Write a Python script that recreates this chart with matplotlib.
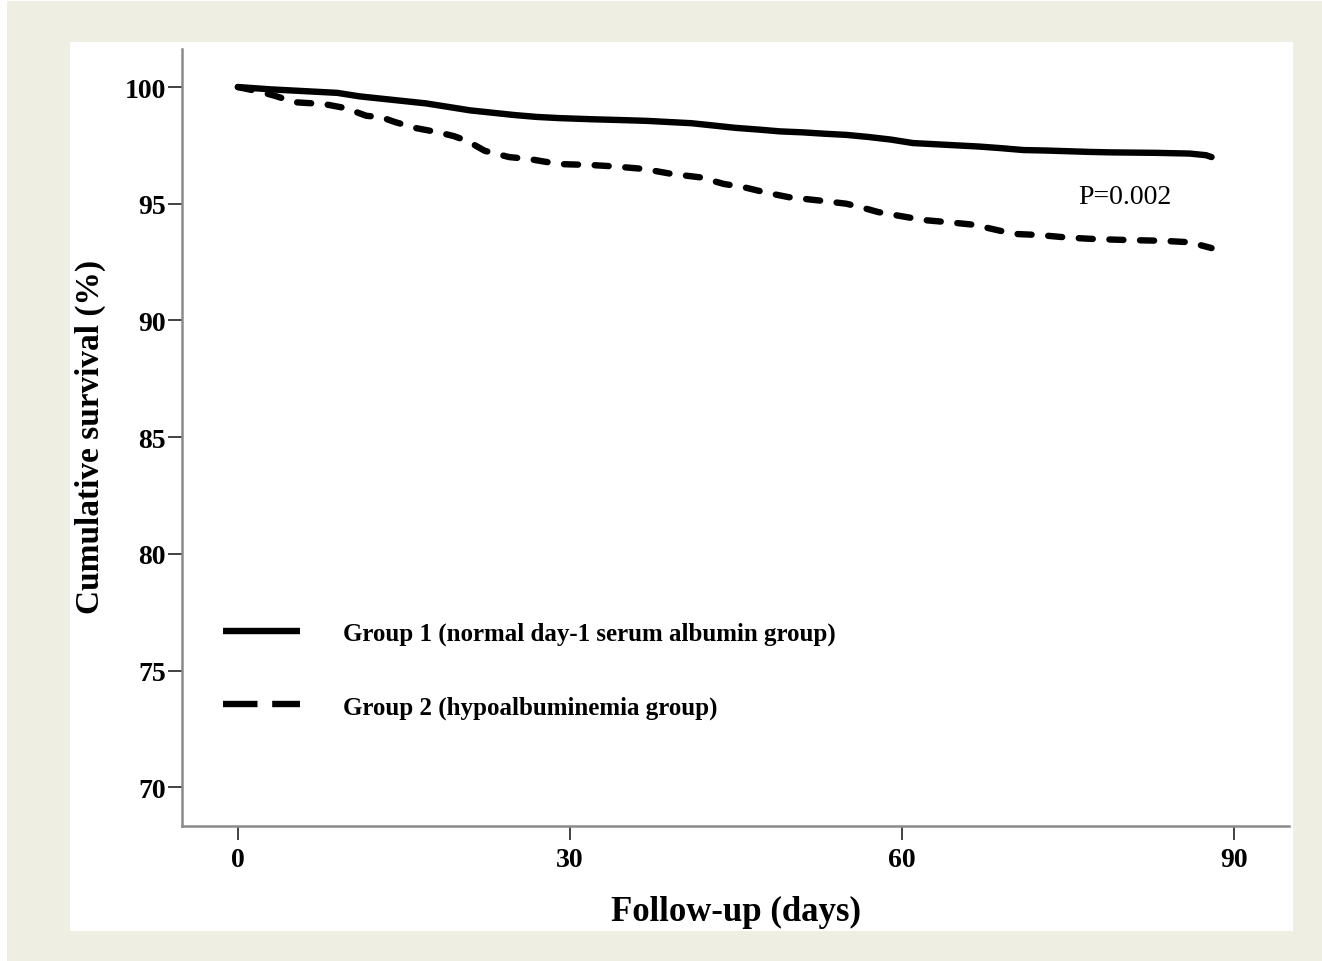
import matplotlib
matplotlib.use("Agg")
import matplotlib.pyplot as plt
from matplotlib.patches import Rectangle
from matplotlib.lines import Line2D

# ---------------- data ----------------
days_g1 = [0, 1.5, 3, 5, 7, 9, 11, 13, 15, 17, 19, 21, 23, 25, 27, 29, 32, 35, 37, 39,
           41, 43, 45, 47, 49, 51, 53, 55, 57, 59, 61, 63, 65, 67, 69, 71, 73, 75, 77,
           79, 83, 86, 87.5, 88]
surv_g1 = [100, 99.95, 99.9, 99.85, 99.8, 99.75, 99.6, 99.5, 99.4, 99.3, 99.15, 99.0,
           98.9, 98.8, 98.72, 98.67, 98.62, 98.58, 98.55, 98.5, 98.45, 98.35, 98.25,
           98.18, 98.1, 98.06, 98.0, 97.95, 97.86, 97.75, 97.6, 97.55, 97.5, 97.45,
           97.38, 97.3, 97.28, 97.25, 97.22, 97.2, 97.18, 97.15, 97.08, 97.0]

days_g2 = [0, 1, 2, 3.3, 4.5, 5.1, 7.8, 9.7, 11.6, 13, 14.2, 16, 18, 19.5, 20.7, 22.3,
           24.5, 26.4, 29, 31.9, 34, 36.7, 39.3, 41.8, 43.9, 45.7, 48, 49.8, 52.7, 55,
           56.3, 57.9, 59.8, 62, 64.4, 66.5, 68.9, 70.5, 72.4, 75, 77.3, 80, 83.7, 86,
           87.2, 88]
surv_g2 = [100, 99.9, 99.8, 99.63, 99.45, 99.35, 99.27, 99.1, 98.77, 98.7, 98.5, 98.25,
           98.07, 97.9, 97.7, 97.27, 97.0, 96.91, 96.7, 96.66, 96.6, 96.49, 96.27, 96.13,
           95.85, 95.71, 95.45, 95.28, 95.13, 95.0, 94.85, 94.64, 94.48, 94.3, 94.2,
           94.1, 93.84, 93.7, 93.66, 93.55, 93.49, 93.45, 93.41, 93.35, 93.2, 93.1]

labels = ["Group 1 (normal day-1 serum albumin group)",
          "Group 2 (hypoalbuminemia group)"]
x_ticks = [0, 30, 60, 90]
y_ticks = [70, 75, 80, 85, 90, 95, 100]
p_text = "P=0.002"
p_pos = (80.2, 95.33)

# ---------------- figure ----------------
W, H = 1322, 962
fig = plt.figure(figsize=(W / 100, H / 100), dpi=100, facecolor="white")
fig.patches.append(Rectangle((7 / W, 0), 1 - 7 / W, 1 - 2 / H, transform=fig.transFigure,
                             facecolor="#efeee3", edgecolor="none", zorder=-10))
fig.patches.append(Rectangle((70 / W, (H - 932) / H), (1293 - 70) / W, (932 - 43) / H,
                             transform=fig.transFigure, facecolor="white",
                             edgecolor="none", zorder=-9))

ax = fig.add_axes([182 / W, (H - 826.7) / H, (1289 - 182) / W, (826.7 - 50) / H])
ax.set_facecolor("none")

serif = "Liberation Serif"
lw = 4.6
ax.plot(days_g1, surv_g1, color="black", lw=lw,
        solid_capstyle="round", solid_joinstyle="round")
ax.plot(days_g2, surv_g2, color="black", lw=lw,
        dashes=(2.2, 2.6), dash_capstyle="round", dash_joinstyle="round")

ax.set_xlim(-5.05, 95.0)
ax.set_ylim(68.35, 101.63)
ax.set_xticks(x_ticks)
ax.set_yticks(y_ticks)

for s in ["top", "right"]:
    ax.spines[s].set_visible(False)
for s in ["left", "bottom"]:
    ax.spines[s].set_color("#8a8a8a")
    ax.spines[s].set_linewidth(1.8)

ax.tick_params(axis="y", direction="out", length=10, width=1.3, color="#333333", pad=1.5)
ax.tick_params(axis="x", direction="out", length=10, width=1.3, color="#333333", pad=5.5)
for t in ax.get_xticklabels() + ax.get_yticklabels():
    t.set_fontfamily(serif)
    t.set_fontweight("bold")
    t.set_fontsize(20)

ax.set_xlabel("Follow-up (days)", fontfamily=serif, fontweight="bold", fontsize=25,
              va="center")
ax.xaxis.set_label_coords(0.5005, -0.111)
ax.set_ylabel("Cumulative survival (%)", fontfamily=serif, fontweight="bold", fontsize=24,
              va="center")
ax.yaxis.set_label_coords(-0.083, 0.5017)

ax.text(p_pos[0], p_pos[1], p_text, fontfamily=serif, fontsize=20, ha="center",
        va="center")

h1 = Line2D([], [], color="black", lw=lw, solid_capstyle="butt")
h2 = Line2D([], [], color="black", lw=lw, dashes=(5.4, 2.3), dash_capstyle="butt")
leg = ax.legend([h1, h2], labels, loc="upper left",
                bbox_to_anchor=(223 / W, (H - 623) / H), bbox_transform=fig.transFigure,
                frameon=False, borderpad=0, borderaxespad=0, handlelength=3.08,
                handletextpad=1.72, labelspacing=1.99,
                prop={"family": serif, "weight": "bold", "size": 18})

fig.savefig("out.png", dpi=100, facecolor=fig.get_facecolor())
